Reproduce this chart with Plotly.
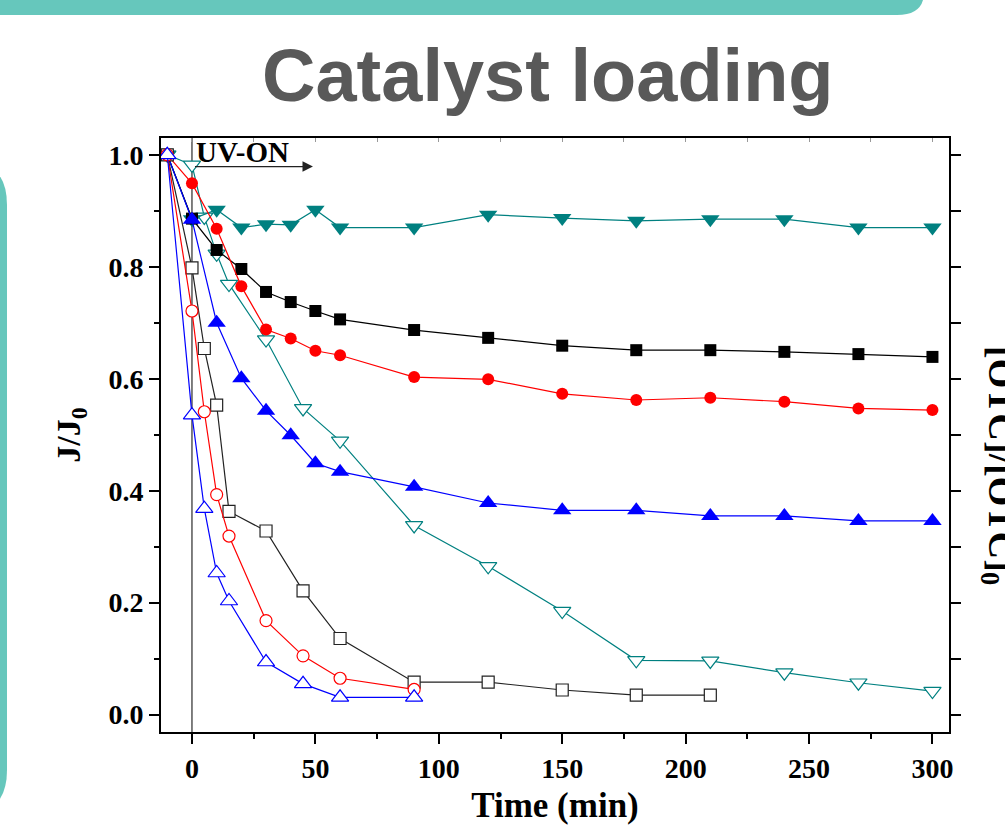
import plotly.graph_objects as go

# ---------------- data ----------------
t_filled = [-10, 0, 10, 20, 30, 40, 50, 60, 90, 120, 150, 180, 210, 240, 270, 300]
black_filled = [1.0, 0.886, 0.830, 0.796, 0.755, 0.737, 0.721, 0.706, 0.687, 0.673, 0.659, 0.651, 0.651, 0.648, 0.644, 0.639]
red_filled = [1.0, 0.949, 0.868, 0.765, 0.688, 0.672, 0.650, 0.642, 0.603, 0.599, 0.573, 0.562, 0.566, 0.559, 0.547, 0.544]
blue_filled = [1.0, 0.884, 0.700, 0.601, 0.543, 0.499, 0.449, 0.434, 0.407, 0.378, 0.365, 0.365, 0.355, 0.355, 0.346, 0.346]
teal_filled = [1.0, 0.885, 0.902, 0.870, 0.876, 0.875, 0.902, 0.870, 0.870, 0.893, 0.887, 0.882, 0.885, 0.885, 0.870, 0.870]

t_teal_open = [-10, 0, 5, 10, 15, 30, 45, 60, 90, 120, 150, 180, 210, 240, 270, 300]
teal_open = [1.0, 0.982, 0.889, 0.823, 0.769, 0.670, 0.547, 0.489, 0.338, 0.265, 0.185, 0.097, 0.096, 0.075, 0.057, 0.042]

t_black_open = [-10, 0, 5, 10, 15, 30, 45, 60, 90, 120, 150, 180, 210]
black_open = [1.0, 0.798, 0.654, 0.553, 0.363, 0.328, 0.221, 0.136, 0.058, 0.058, 0.044, 0.035, 0.035]

t_short = [-10, 0, 5, 10, 15, 30, 45, 60, 90]
red_open = [1.0, 0.721, 0.541, 0.393, 0.319, 0.168, 0.105, 0.065, 0.045]
blue_open = [1.0, 0.535, 0.368, 0.253, 0.203, 0.094, 0.055, 0.031, 0.031]

x_ticks = [0, 50, 100, 150, 200, 250, 300]
y_ticks = [0.0, 0.2, 0.4, 0.6, 0.8, 1.0]
y_tick_labels = ["0.0", "0.2", "0.4", "0.6", "0.8", "1.0"]

# ---------------- layout geometry ----------------
W, H = 1005, 825
L, R, T, B = 161, 949, 138, 732
XR = [-12.55, 306.7]
YR = [-0.031, 1.030]

def px(xp):  # page x pixel -> paper
    return (xp - L) / (R - L)

def py(yp):  # page y pixel -> paper
    return (B - yp) / (B - T)

BLACK = "#000000"
RED = "#FF0000"
BLUE = "#0000FF"
TEAL = "#008080"
SERIF = "Liberation Serif"

fig = go.Figure()

def add(x, y, color, symbol, filled, size):
    if filled:
        marker = dict(symbol=symbol, size=size, color=color, line=dict(width=0))
    else:
        marker = dict(symbol=symbol, size=size, color="white",
                      line=dict(width=1.2, color=color))
    fig.add_trace(go.Scatter(
        x=x, y=y, mode="lines+markers",
        line=dict(color=color, width=1.2),
        marker=marker, showlegend=False, hoverinfo="x+y"))

add(t_teal_open, teal_open, TEAL, "triangle-down", False, 15)
add(t_filled, teal_filled, TEAL, "triangle-down", True, 16)
add(t_filled, black_filled, BLACK, "square", True, 12)
add(t_filled, red_filled, RED, "circle", True, 12)
add(t_filled, blue_filled, BLUE, "triangle-up", True, 16)
add(t_black_open, black_open, "#222222", "square", False, 12)
add(t_short, red_open, RED, "circle", False, 12)
add(t_short, blue_open, BLUE, "triangle-up", False, 15)

# dummy trace to activate the secondary (top / right) axes
fig.add_trace(go.Scatter(x=[None], y=[None], xaxis="x2", yaxis="y2",
                         showlegend=False, hoverinfo="skip"))

tickfont = dict(family=SERIF, size=28, color="black", weight="bold")

fig.update_layout(
    width=W, height=H,
    margin=dict(l=L, r=W - R, t=T, b=H - B, autoexpand=False),
    paper_bgcolor="white", plot_bgcolor="white",
    showlegend=False,
    xaxis=dict(
        range=XR, tickmode="array", tickvals=x_ticks,
        ticks="outside", ticklen=10, tickwidth=2, tickcolor="black",
        showline=True, linewidth=2, linecolor="black", mirror=True,
        showgrid=False, zeroline=False, tickfont=tickfont,
        minor=dict(tickmode="linear", tick0=0, dtick=25, ticks="outside",
                   ticklen=5, tickwidth=2, tickcolor="black", showgrid=False),
        title=dict(text="Time (min)", standoff=14,
                   font=dict(family=SERIF, size=35, color="black", weight="bold")),
    ),
    yaxis=dict(
        range=YR, tickmode="array", tickvals=y_ticks, ticktext=y_tick_labels,
        ticks="outside", ticklen=10, tickwidth=2, tickcolor="black",
        showline=True, linewidth=2, linecolor="black", mirror=True,
        showgrid=False, zeroline=False, tickfont=tickfont,
        minor=dict(tickmode="linear", tick0=0, dtick=0.1, ticks="outside",
                   ticklen=5, tickwidth=2, tickcolor="black", showgrid=False),
        title=dict(text="J/J<sub>0</sub>", standoff=18,
                   font=dict(family=SERIF, size=34, color="black", weight="bold")),
    ),
    xaxis2=dict(
        range=XR, overlaying="x", side="top", anchor="y",
        tickmode="linear", tick0=0, dtick=25, ticks="inside", ticklen=4,
        tickwidth=1, tickcolor="#999999", showticklabels=False,
        showline=False, showgrid=False, zeroline=False,
    ),
    yaxis2=dict(
        range=YR, overlaying="y", side="right", anchor="x",
        tickmode="linear", tick0=0, dtick=0.1, ticks="outside", ticklen=11,
        tickwidth=2, tickcolor="black", showticklabels=False,
        showline=False, showgrid=False, zeroline=False,
    ),
)

# decorative slide background shapes (page pixel positions)
top_bar = "M {a},{b} L {c},{b} L {c},{d} Q {c},{e} {f},{e} L {a},{e} Z".format(
    a=px(-20), b=py(-30), c=px(924), d=py(-8), e=py(15), f=px(897))
left_bar = "M {a},{b} L {c},{b} Q {d},{b} {d},{e} L {d},{f} Q {d},{g} {c},{g} L {a},{g} Z".format(
    a=px(-80), b=py(160), c=px(-37), d=px(7), e=py(205), f=py(770), g=py(815))
fig.add_shape(type="path", path=top_bar, xref="paper", yref="paper",
              fillcolor="#66C7BC", line=dict(width=0), layer="below")
fig.add_shape(type="path", path=left_bar, xref="paper", yref="paper",
              fillcolor="#66C7BC", line=dict(width=0), layer="below")

# UV-on vertical line
fig.add_shape(type="line", x0=0, x1=0, y0=0, y1=1, xref="x", yref="paper",
              line=dict(color="black", width=1), layer="below")

# title
fig.add_annotation(text="<b>Catalyst loading</b>", xref="paper", yref="paper",
                   x=px(548), y=py(75), xanchor="center", yanchor="middle",
                   showarrow=False,
                   font=dict(family="Liberation Sans", size=74, color="#595959"))

# UV-ON label and arrow
fig.add_annotation(text="<b>UV-ON</b>", xref="x", yref="y", x=0.9, y=1.005,
                   xanchor="left", yanchor="middle", showarrow=False,
                   font=dict(family=SERIF, size=29, color="black"))
fig.add_annotation(text="", xref="x", yref="y", x=49, y=0.979,
                   axref="x", ayref="y", ax=0.6, ay=0.979,
                   showarrow=True, arrowhead=2, arrowsize=1.6, arrowwidth=1.3,
                   arrowcolor="#222222")

# right axis title
fig.add_annotation(text="<b>[OTC]/[OTC]<sub>0</sub></b>", xref="paper", yref="paper",
                   x=px(999), y=py(465), xanchor="center", yanchor="middle",
                   textangle=90, showarrow=False,
                   font=dict(family=SERIF, size=38, color="black"))

fig.write_html("out.html",
               config={"displayModeBar": False},
               post_script="document.body.style.margin='0';")
